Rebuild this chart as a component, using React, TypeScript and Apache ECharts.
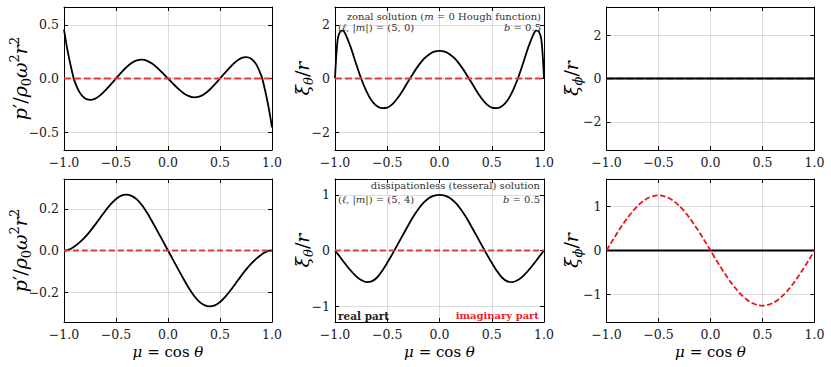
import React, { useEffect, useRef } from "react";
import * as echarts from "echarts";

// ---------- data ----------
const MU = [
  -1, -0.975, -0.95, -0.925, -0.9, -0.85, -0.8, -0.75, -0.7, -0.65, -0.6, -0.55, -0.5, -0.45, -0.4, -0.35, -0.3,
  -0.25, -0.2, -0.15, -0.1, -0.05, 0, 0.05, 0.1, 0.15, 0.2, 0.25, 0.3, 0.35, 0.4, 0.45, 0.5, 0.55, 0.6, 0.65, 0.7,
  0.75, 0.8, 0.85, 0.9, 0.925, 0.95, 0.975, 1,
];
const MU_ENDS = [-1, 1];
const ZERO_ENDS = [0, 0];

// zonal (m = 0) solution, real parts
const P_ZONAL = [
  0.456, 0.31, 0.185, 0.075, -0.02, -0.13, -0.185, -0.2, -0.188, -0.155, -0.108, -0.055, 0, 0.055, 0.105, 0.145,
  0.17, 0.176, 0.165, 0.137, 0.097, 0.05, 0, -0.05, -0.097, -0.137, -0.165, -0.176, -0.17, -0.145, -0.105, -0.055, 0,
  0.055, 0.108, 0.155, 0.188, 0.2, 0.185, 0.13, 0.02, -0.075, -0.185, -0.31, -0.456,
];
const XI_THETA_ZONAL = [
  0, 1.45, 1.76, 1.79, 1.66, 1.17, 0.57, 0, -0.47, -0.82, -1.03, -1.11, -1.09, -0.96, -0.73, -0.44, -0.11, 0.2, 0.49,
  0.73, 0.9, 1.0, 1.03, 1.0, 0.9, 0.73, 0.49, 0.2, -0.11, -0.44, -0.73, -0.96, -1.09, -1.11, -1.03, -0.82, -0.47, 0,
  0.57, 1.17, 1.66, 1.79, 1.76, 1.45, 0,
];
// tesseral (|m| = 4) solution
const P_TESSERAL = [
  0, 0.001, 0.005, 0.011, 0.019, 0.039, 0.063, 0.092, 0.124, 0.158, 0.192, 0.222, 0.247, 0.263, 0.268, 0.262, 0.245,
  0.217, 0.18, 0.137, 0.092, 0.046, 0, -0.046, -0.092, -0.137, -0.18, -0.217, -0.245, -0.262, -0.268, -0.263, -0.247,
  -0.222, -0.192, -0.158, -0.124, -0.092, -0.063, -0.039, -0.019, -0.011, -0.005, -0.001, 0,
];
const XI_THETA_TESSERAL = [
  0, -0.06, -0.12, -0.185, -0.245, -0.36, -0.46, -0.53, -0.567, -0.555, -0.49, -0.37, -0.22, -0.06, 0.11, 0.28, 0.45,
  0.61, 0.75, 0.865, 0.945, 0.988, 1.0, 0.988, 0.945, 0.865, 0.75, 0.61, 0.45, 0.28, 0.11, -0.06, -0.22, -0.37, -0.49,
  -0.555, -0.567, -0.53, -0.46, -0.36, -0.245, -0.185, -0.12, -0.06, 0,
];
const XI_PHI_TESSERAL_IMAG = [
  0, 0.099, 0.197, 0.294, 0.389, 0.571, 0.739, 0.889, 1.018, 1.121, 1.196, 1.242, 1.258, 1.242, 1.196, 1.121, 1.018,
  0.889, 0.739, 0.571, 0.389, 0.197, 0, -0.197, -0.389, -0.571, -0.739, -0.889, -1.018, -1.121, -1.196, -1.242,
  -1.258, -1.242, -1.196, -1.121, -1.018, -0.889, -0.739, -0.571, -0.389, -0.294, -0.197, -0.099, 0,
];

const Y_TICKS = [
  [-0.5, 0, 0.5],
  [-2, 0, 2],
  [-2, 0, 2],
  [-0.2, 0, 0.2],
  [-1, 0, 1],
  [-1, 0, 1],
];
const Y_LIMITS = [0.668, 2.67, 3.3, 0.343, 1.285, 1.63];
const Y_DECIMALS = [1, 0, 0, 1, 0, 0];

// ---------- styling / layout ----------
const SERIF = "DejaVu Serif";
const GRID_LEFT = [64, 335, 606.5];
const GRID_WIDTH = [208, 209, 208];
const GRID_TOP = [7, 179];
const GRID_HEIGHT = 143;
const BLACK = "#000000";
const RED_ZERO = "#e03a3a";
const RED_CURVE = "#e8141c";
const TICK_SIZE = 12.5;
const ANN_SIZE = 10;

function fmt(v: number, d: number): string {
  const s = Math.abs(v) < 1e-9 ? (0).toFixed(d) : v.toFixed(d);
  return s[0] === "-" ? "\u2212" + s.slice(1) : s;
}

function mathRich(sz: number) {
  const lh = Math.round(sz * 1.3);
  const small = Math.round(sz * 0.7);
  return {
    i: { fontFamily: SERIF, fontSize: sz, fontStyle: "italic", lineHeight: lh },
    n: { fontFamily: SERIF, fontSize: sz, lineHeight: lh },
    sub: { fontFamily: SERIF, fontSize: small, lineHeight: small, verticalAlign: "bottom" },
    subi: { fontFamily: SERIF, fontSize: small, fontStyle: "italic", lineHeight: small, verticalAlign: "bottom" },
    sup: { fontFamily: SERIF, fontSize: small, lineHeight: small, verticalAlign: "top" },
  };
}

function pairs(xs: number[], ys: number[]) {
  return xs.map((x, k) => [x, ys[k]]);
}

function buildOption() {
  const grids: any[] = [];
  const xAxes: any[] = [];
  const yAxes: any[] = [];
  const series: any[] = [];

  const panels = [
    { real: P_ZONAL, imag: null, redOnTop: true, redColor: RED_ZERO, dash: [7, 3] },
    { real: XI_THETA_ZONAL, imag: null, redOnTop: true, redColor: RED_ZERO, dash: [7, 3] },
    { real: null, imag: null, redOnTop: false, redColor: RED_ZERO, dash: [7, 3] },
    { real: P_TESSERAL, imag: null, redOnTop: true, redColor: RED_ZERO, dash: [6, 3] },
    { real: XI_THETA_TESSERAL, imag: null, redOnTop: true, redColor: RED_ZERO, dash: [6, 3] },
    { real: null, imag: XI_PHI_TESSERAL_IMAG, redOnTop: true, redColor: RED_CURVE, dash: [5.5, 2.5] },
  ];

  const axisLine = { show: true, onZero: false, lineStyle: { color: BLACK, width: 1 } };
  const splitLine = { show: true, lineStyle: { color: "#dcdcdc", width: 1 } };

  panels.forEach((p, i) => {
    const row = Math.floor(i / 3);
    const col = i % 3;
    grids.push({ left: GRID_LEFT[col], top: GRID_TOP[row], width: GRID_WIDTH[col], height: GRID_HEIGHT });
    const lim = Y_LIMITS[i];
    const yt = Y_TICKS[i];
    const dec = Y_DECIMALS[i];
    xAxes.push({
      gridIndex: i,
      type: "value",
      min: -1,
      max: 1,
      interval: 0.5,
      position: "bottom",
      axisLine,
      axisTick: { show: true, inside: true, length: 4, lineStyle: { color: BLACK, width: 1 } },
      axisLabel: {
        show: true,
        margin: 6,
        color: "#1a1a1a",
        fontFamily: SERIF,
        fontSize: TICK_SIZE,
        formatter: (v: number) => fmt(v, 1),
      },
      splitLine,
    });
    xAxes.push({
      gridIndex: i,
      type: "value",
      min: -1,
      max: 1,
      interval: 0.5,
      position: "top",
      axisLine,
      axisTick: { show: true, inside: true, length: 4, lineStyle: { color: BLACK, width: 1 } },
      axisLabel: { show: false },
      splitLine: { show: false },
    });
    yAxes.push({
      gridIndex: i,
      type: "value",
      min: -lim,
      max: lim,
      position: "left",
      axisLine,
      axisTick: { show: true, inside: true, length: 4, customValues: yt, lineStyle: { color: BLACK, width: 1 } },
      axisLabel: {
        show: true,
        customValues: yt,
        margin: 5,
        color: "#1a1a1a",
        fontFamily: SERIF,
        fontSize: TICK_SIZE,
        formatter: (v: number) => fmt(v, dec),
      },
      splitLine,
    });
    yAxes.push({
      gridIndex: i,
      type: "value",
      min: -lim,
      max: lim,
      position: "right",
      axisLine,
      axisTick: { show: true, inside: true, length: 4, customValues: yt, lineStyle: { color: BLACK, width: 1 } },
      axisLabel: { show: false },
      splitLine: { show: false },
    });

    const realData = p.real ? pairs(MU, p.real) : pairs(MU_ENDS, ZERO_ENDS);
    const imagData = p.imag ? pairs(MU, p.imag) : pairs(MU_ENDS, ZERO_ENDS);
    series.push({
      type: "line",
      name: "real",
      xAxisIndex: 2 * i,
      yAxisIndex: 2 * i,
      data: realData,
      showSymbol: false,
      symbol: "none",
      smooth: 0.3,
      z: p.redOnTop ? 2 : 4,
      lineStyle: { color: BLACK, width: 1.8 },
    });
    series.push({
      type: "line",
      name: "imag",
      xAxisIndex: 2 * i,
      yAxisIndex: 2 * i,
      data: imagData,
      showSymbol: false,
      symbol: "none",
      smooth: 0.3,
      z: p.redOnTop ? 4 : 2,
      lineStyle: { color: p.redColor, width: 1.8, type: p.dash },
    });
  });

  const LABEL_SIZE = 19;
  const yLabel = (x: number, y: number, text: string) => ({
    type: "text",
    x,
    y,
    rotation: Math.PI / 2,
    style: {
      text,
      fill: "#000",
      fontFamily: SERIF,
      fontSize: LABEL_SIZE,
      align: "center",
      verticalAlign: "middle",
      rich: mathRich(LABEL_SIZE),
    },
  });
  const pText = "{i|p}{n|\u2032/}{i|\u03c1}{sub|0}{i|\u03c9}{sup|2}{i|r}{sup|2}";
  const xiThText = "{i|\u03be}{subi|\u03b8}{n|/}{i|r}";
  const xiPhText = "{i|\u03be}{subi|\u03d5}{n|/}{i|r}";
  const rowMid = [GRID_TOP[0] + GRID_HEIGHT / 2, GRID_TOP[1] + GRID_HEIGHT / 2];

  const annRich = {
    i: { fontFamily: SERIF, fontSize: ANN_SIZE, fontStyle: "italic", fill: "#333" },
  };
  const ann = (x: number, y: number, align: string, text: string, extra: any = {}) => ({
    type: "text",
    x,
    y,
    z: 100,
    style: {
      text,
      fill: "#333",
      fontFamily: SERIF,
      fontSize: ANN_SIZE,
      align,
      verticalAlign: "middle",
      rich: annRich,
      ...extra,
    },
  });

  const xLabel = (col: number) => ({
    type: "text",
    x: GRID_LEFT[col] + GRID_WIDTH[col] / 2,
    y: 352,
    style: {
      text: "{i|\u03bc} = cos {i|\u03b8}",
      fill: "#000",
      fontFamily: SERIF,
      fontSize: 15,
      align: "center",
      verticalAlign: "middle",
      rich: { i: { fontFamily: SERIF, fontSize: 15, fontStyle: "italic" } },
    },
  });

  const graphic = [
    yLabel(20, rowMid[0], pText),
    yLabel(20, rowMid[1], pText),
    yLabel(302, rowMid[0], xiThText),
    yLabel(302, rowMid[1], xiThText),
    yLabel(571, rowMid[0], xiPhText),
    yLabel(571, rowMid[1], xiPhText),
    xLabel(0),
    xLabel(1),
    xLabel(2),
    ann(541, 16, "right", "zonal solution ({i|m} = 0 Hough function)"),
    ann(338, 27, "left", "({i|\u2113}, |{i|m}|) = (5, 0)"),
    ann(541, 27, "right", "{i|b} = 0.5"),
    ann(540, 185, "right", "dissipationless (tesseral) solution"),
    ann(338, 199, "left", "({i|\u2113}, |{i|m}|) = (5, 4)"),
    ann(540, 199, "right", "{i|b} = 0.5"),
    ann(338, 315.5, "left", "real part", { fontWeight: "bold", fill: "#222", fontSize: 10.5 }),
    ann(539, 315.5, "right", "imaginary part", { fontWeight: "bold", fill: "#ee1c1c", fontSize: 10 }),
  ];

  return {
    animation: false,
    backgroundColor: "#ffffff",
    grid: grids,
    xAxis: xAxes,
    yAxis: yAxes,
    series,
    graphic,
  };
}

export default function App() {
  const ref = useRef<HTMLDivElement>(null);
  useEffect(() => {
    if (!ref.current) return;
    const chart = echarts.init(ref.current, null, { renderer: "svg" });
    chart.setOption(buildOption() as any);
    return () => chart.dispose();
  }, []);
  return (
    <div
      ref={ref}
      style={{ position: "absolute", left: 0, top: 0, width: 831, height: 367, background: "#fff" }}
    />
  );
}
